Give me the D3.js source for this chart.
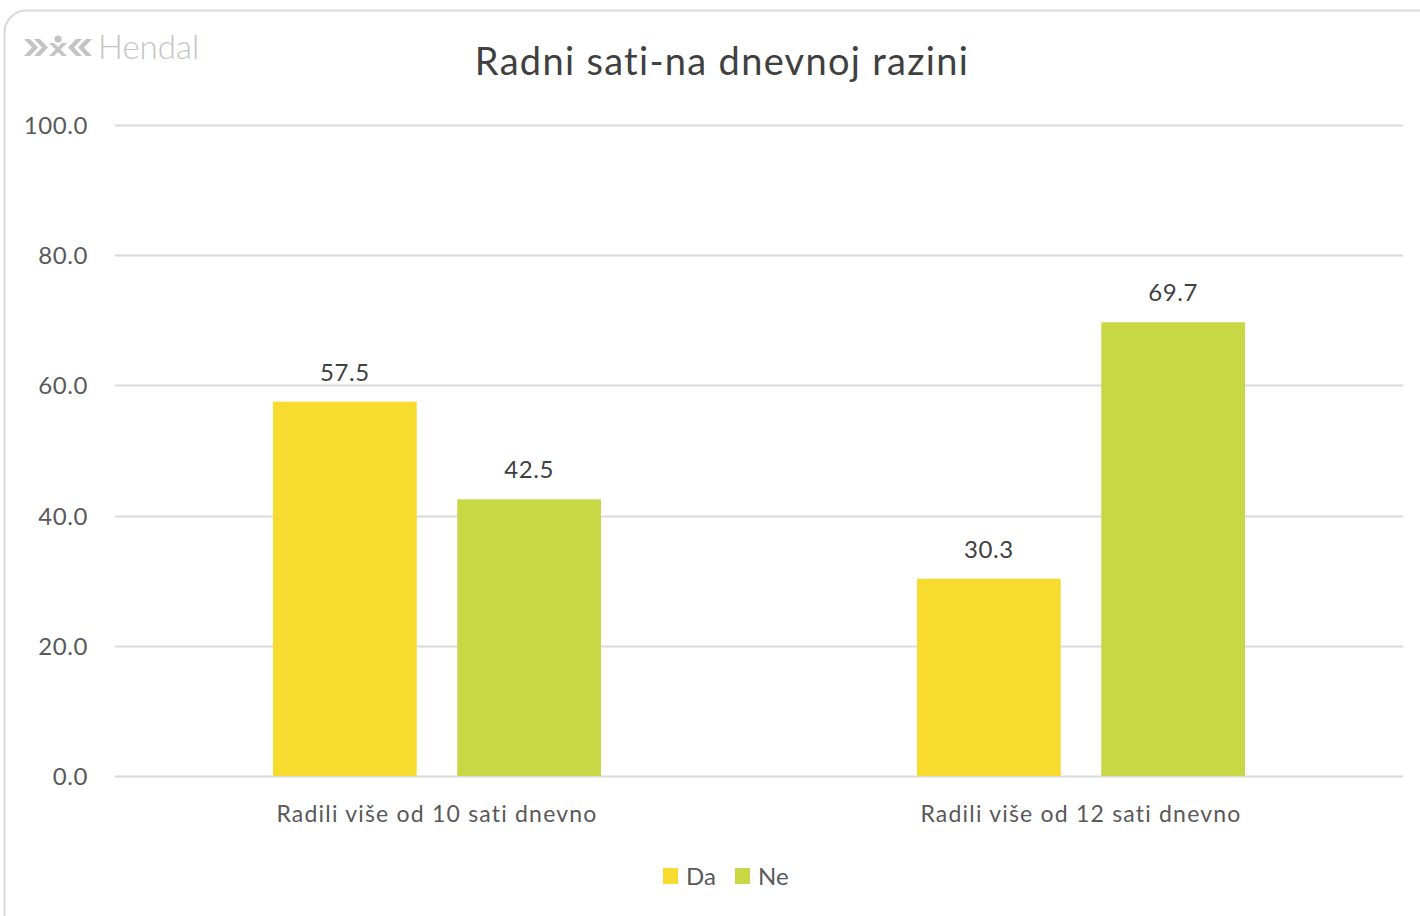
<!DOCTYPE html>
<html>
<head>
<meta charset="utf-8">
<script src="https://cdn.jsdelivr.net/npm/d3@7"></script>
<style>
	body { margin: 0; background: #fff; }
	svg { display: block; font-family: Lato, "Open Sans", sans-serif; }
</style>
</head>
<body>
<svg id="chart" width="1420" height="916"></svg>
<script>
// chart data
const categories = ["Radili više od 10 sati dnevno", "Radili više od 12 sati dnevno"];
const seriesNames = ["Da", "Ne"];
const daValues = [57.5, 30.3];
const neValues = [42.5, 69.7];
const yTicks = [0, 20, 40, 60, 80, 100];
const colors = ["#F7DC2F", "#C8D845"];

const svg = d3.select("#chart");
const margin = {left: 115, right: 17, top: 125, bottom: 140};
const width = 1420, height = 916;
const font = "Lato, 'Open Sans', sans-serif";

// card border
svg.append("rect")
	.attr("x", 4.5).attr("y", 10.5)
	.attr("width", 1440).attr("height", 940)
	.attr("rx", 22)
	.attr("fill", "#fff")
	.attr("stroke", "#d9d9d9")
	.attr("stroke-width", 2);

// logo
let logo = svg.append("g").attr("transform", "translate(24,38)").attr("fill", "#c4c4c4");
logo.append("path").attr("d", "M0,1 L8,9.5 L0,18 L6,18 L14,9.5 L6,1 Z");
logo.append("path").attr("d", "M10,1 L18,9.5 L10,18 L16,18 L24,9.5 L16,1 Z");
logo.append("path").attr("d", "M25,5 L38,18 L43,18 L30,5 Z M38,5 L25,18 L30,18 L43,5 Z");
logo.append("circle").attr("cx", 34).attr("cy", 1).attr("r", 3.6);
logo.append("path").attr("d", "M68,1 L60,9.5 L68,18 L62,18 L54,9.5 L62,1 Z");
logo.append("path").attr("d", "M58,1 L50,9.5 L58,18 L52,18 L44,9.5 L52,1 Z");
svg.append("text")
	.attr("x", 98).attr("y", 59)
	.attr("fill", "#c4c4c4")
	.style("font-size", "33px")
	.style("font-weight", 300)
	.text("Hendal");

// title
svg.append("text")
	.attr("x", 722).attr("y", 75)
	.attr("text-anchor", "middle")
	.attr("fill", "#404040")
	.style("font-size", "38px")
	.style("letter-spacing", "1.3px")
	.text("Radni sati-na dnevnoj razini");

// scales
let x0 = d3.scaleBand()
	.domain(categories)
	.range([margin.left, width - margin.right]);

let x1 = d3.scaleBand()
	.domain(seriesNames)
	.range([0, 328])
	.paddingInner(0.22);

let y = d3.scaleLinear()
	.domain([0, 100])
	.range([776, 125]);

// gridlines
svg.append("g")
	.selectAll("line")
	.data(yTicks)
	.join("line")
	.attr("x1", margin.left).attr("x2", width - margin.right)
	.attr("y1", d => Math.round(y(d)) + 0.5).attr("y2", d => Math.round(y(d)) + 0.5)
	.attr("stroke", "#d9d9d9")
	.attr("stroke-width", 2);

// y axis labels
let yAxis = d3.axisLeft(y).tickValues(yTicks).tickFormat(d3.format(".1f")).tickSize(0).tickPadding(0);
svg.append("g")
	.attr("transform", "translate(88,0)")
	.call(yAxis)
	.attr("font-family", font)
	.call(g => g.select(".domain").remove())
	.selectAll("text")
	.attr("fill", "#595959")
	.style("font-size", "24px")
	.style("letter-spacing", "0.6px")
	.attr("dy", "0.35em");

// bars
let data = categories.map((c, i) => ({cat: c, values: [daValues[i], neValues[i]]}));
let groups = svg.append("g")
	.selectAll("g")
	.data(data)
	.join("g")
	.attr("transform", d => "translate(" + (x0(d.cat) + (x0.bandwidth() - 328) / 2) + ",0)");

groups.selectAll("rect")
	.data(d => d.values.map((v, j) => ({name: seriesNames[j], value: v, color: colors[j]})))
	.join("rect")
	.attr("x", d => x1(d.name))
	.attr("width", x1.bandwidth())
	.attr("y", d => y(d.value))
	.attr("height", d => y(0) - y(d.value))
	.attr("fill", d => d.color);

groups.selectAll("text")
	.data(d => d.values.map((v, j) => ({name: seriesNames[j], value: v})))
	.join("text")
	.attr("x", d => x1(d.name) + x1.bandwidth() / 2)
	.attr("y", d => y(d.value) - 21)
	.attr("text-anchor", "middle")
	.attr("fill", "#404040")
	.style("font-size", "24px")
	.style("letter-spacing", "0.6px")
	.text(d => d3.format(".1f")(d.value));

// x axis labels
let xAxis = d3.axisBottom(x0).tickSize(0).tickPadding(0);
svg.append("g")
	.attr("transform", "translate(0,822)")
	.call(xAxis)
	.attr("font-family", font)
	.call(g => g.select(".domain").remove())
	.selectAll("text")
	.attr("fill", "#595959")
	.attr("dy", 0)
	.style("font-size", "23px")
	.style("letter-spacing", "1.2px");

// legend
let legend = svg.append("g").attr("transform", "translate(663,868)");
let legendItems = legend.selectAll("g")
	.data(seriesNames)
	.join("g")
	.attr("transform", (d, i) => "translate(" + (i * 72) + ",0)");
legendItems.append("rect")
	.attr("width", 15).attr("height", 16)
	.attr("fill", (d, i) => colors[i]);
legendItems.append("text")
	.attr("x", 23).attr("y", 17)
	.attr("fill", "#595959")
	.style("font-size", "24px")
	.text(d => d);
</script>
</body>
</html>
